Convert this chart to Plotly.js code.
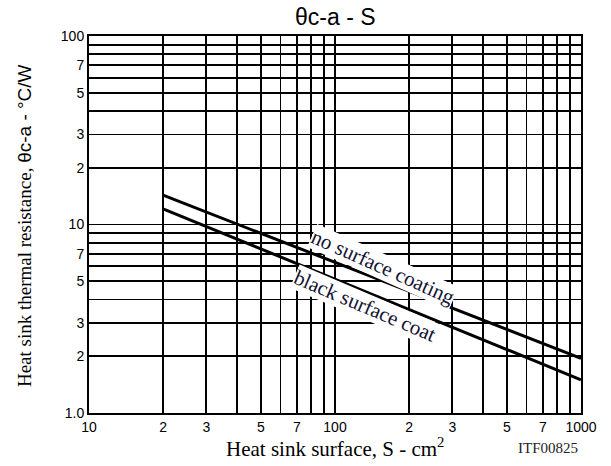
<!DOCTYPE html>
<html>
<head>
<meta charset="utf-8">
<script src="https://cdn.plot.ly/plotly-3.0.1.min.js"></script>
<style>html,body{margin:0;padding:0;background:#fff;}#chart{width:611px;height:466px;}</style>
</head>
<body>
<div id="chart"></div>
<script>
// Data
const surfaceArea = [20, 1000];            // S, cm^2
const noSurfaceCoating = [14.3, 1.95];     // θc-a, °C/W
const blackSurfaceCoat = [12.1, 1.5];      // θc-a, °C/W

const xTickVals = [10,20,30,40,50,60,70,80,90,100,200,300,400,500,600,700,800,900,1000];
const xTickText = ['10','2','3','','5','','7','','','100','2','3','','5','','7','','','1000'];
const yTickVals = [1,2,3,4,5,6,7,8,9,10,20,30,40,50,60,70,80,90,100];
const yTickText = ['1.0','2','3','','5','','7','','','10','2','3','','5','','7','','','100'];

const SERIF = 'Liberation Serif, Times New Roman, serif';
const SANS = 'Liberation Sans, Arial, sans-serif';

const lineStyle = {color:'#000', width:3};
const traces = [
  {x: surfaceArea, y: noSurfaceCoating, mode:'lines', line: lineStyle, name:'no surface coating', hoverinfo:'skip'},
  {x: surfaceArea, y: blackSurfaceCoat, mode:'lines', line: lineStyle, name:'black surface coat', hoverinfo:'skip'}
];

const axisCommon = {
  type:'log', showline:true, linecolor:'#000', linewidth:2, mirror:true,
  showgrid:true, gridcolor:'#000', gridwidth:1.8, zeroline:false,
  ticks:'', tickmode:'array',
  tickfont:{family:SANS, size:14, color:'#000'}
};

const layout = {
  width:611, height:466,
  margin:{l:89, r:30, t:36, b:53},
  paper_bgcolor:'#fff', plot_bgcolor:'#fff',
  showlegend:false,
  xaxis: Object.assign({}, axisCommon, {
    range:[1, 3], tickvals:xTickVals, ticktext:xTickText
  }),
  yaxis: Object.assign({}, axisCommon, {
    range:[0, 2], tickvals:yTickVals, ticktext:yTickText
  }),
  annotations:[
    {text:'θc-a - S', xref:'paper', yref:'paper', x:0.5, y:1.05,
     xanchor:'center', yanchor:'middle', showarrow:false,
     font:{family:SANS, size:23, color:'#000'}},
    {text:'no surface coating', xref:'x', yref:'y', x:2.195, y:0.775, showarrow:false,
     textangle:24, bgcolor:'#fff', borderpad:0,
     font:{family:SERIF, size:21, color:'#141432'}},
    {text:'black surface coat', xref:'x', yref:'y', x:2.122, y:0.566, showarrow:false,
     textangle:23, bgcolor:'#fff', borderpad:0,
     font:{family:SERIF, size:21, color:'#141432'}},
    {text:'Heat sink surface, S - cm<sup>2</sup>', xref:'paper', yref:'paper',
     x:0.4995, y:-0.092, xanchor:'center', yanchor:'middle', showarrow:false,
     font:{family:SERIF, size:21, color:'#000'}},
    {text:'Heat sink thermal resistance, <span style="font-family:Liberation Sans, Arial, sans-serif">θc-a - °C/W</span>',
     xref:'paper', yref:'paper', x:-0.132, y:0.496, xanchor:'center', yanchor:'middle',
     textangle:-90, showarrow:false,
     font:{family:SERIF, size:19, color:'#000'}},
    {text:'ITF00825', xref:'paper', yref:'paper', x:0.933, y:-0.092, xanchor:'center', yanchor:'middle',
     showarrow:false, font:{family:SERIF, size:15, color:'#222'}}
  ]
};

Plotly.newPlot('chart', traces, layout, {staticPlot:true, displayModeBar:false});
</script>
</body>
</html>
